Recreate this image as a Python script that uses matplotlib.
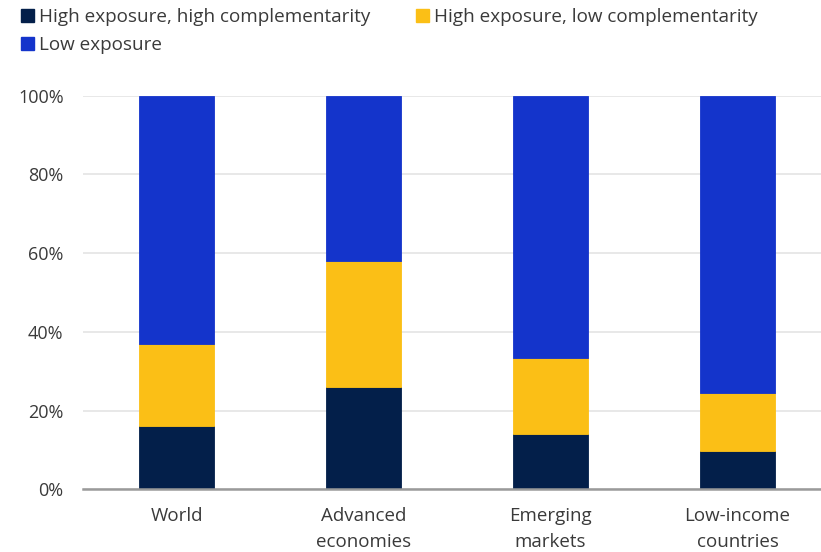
import matplotlib
matplotlib.use("Agg")
import matplotlib.pyplot as plt
from matplotlib.patches import Patch
from matplotlib.ticker import FuncFormatter

# Share of employment by AI exposure group (percent)
groups = ["World", "Advanced\neconomies", "Emerging\nmarkets", "Low-income\ncountries"]
high_exp_high_comp = [16, 26, 14, 9.7]
high_exp_low_comp = [21, 32, 19.3, 14.7]
low_exposure = [63, 42, 66.7, 75.6]

series_names = ["High exposure, high complementarity",
                "High exposure, low complementarity",
                "Low exposure"]
colors = ["#031f4a", "#fbbf16", "#1434cb"]

plt.rcParams["font.family"] = ["Open Sans", "DejaVu Sans"]
text_color = "#3a3a3a"

fig = plt.figure(figsize=(8.21, 5.52), dpi=100)
ax = fig.add_axes([83 / 821, 1 - 489.3 / 552, 1 - 83 / 821, (489.3 - 95.7) / 552])

x = list(range(len(groups)))
width = 0.4
bottom = [0.0] * len(groups)
for vals, color in zip([high_exp_high_comp, high_exp_low_comp, low_exposure], colors):
    ax.bar(x, vals, width=width, bottom=bottom, color=color, zorder=3,
           edgecolor=color, linewidth=0.6)
    bottom = [b + v for b, v in zip(bottom, vals)]

ax.set_ylim(0, 100)
ax.set_xlim(-0.5, 3.446)
ax.set_yticks([0, 20, 40, 60, 80, 100])
ax.yaxis.set_major_formatter(FuncFormatter(lambda v, _: f"{v:.0f}%"))
ax.set_xticks(x)
ax.set_xticklabels(groups)
ax.grid(axis="y", color="#e6e6e6", linewidth=1.3, zorder=0)
ax.set_axisbelow(True)
for side in ["top", "right", "left"]:
    ax.spines[side].set_visible(False)
ax.spines["bottom"].set_color("#9a9a9a")
ax.spines["bottom"].set_linewidth(1.8)
ax.spines["bottom"].set_zorder(4)
ax.tick_params(axis="y", length=0, labelsize=13, colors=text_color, pad=14)
ax.tick_params(axis="x", length=0, labelsize=13.5, colors=text_color, pad=13)
for lbl in ax.get_xticklabels():
    lbl.set_linespacing(1.55)

# legend filled row by row: first row holds the two high-exposure groups
handles = [Patch(facecolor=c, edgecolor=c) for c in colors]
order = [0, 2, 1]
fig.legend([handles[i] for i in order], [series_names[i] for i in order],
           loc="upper left", bbox_to_anchor=(0.012, 1.006),
           ncol=2, frameon=False, fontsize=13.6, handlelength=0.7, handleheight=0.7,
           handletextpad=0.25, columnspacing=2.4, labelspacing=0.55,
           labelcolor=text_color, borderaxespad=0.2)

fig.savefig("out.png", dpi=100)
